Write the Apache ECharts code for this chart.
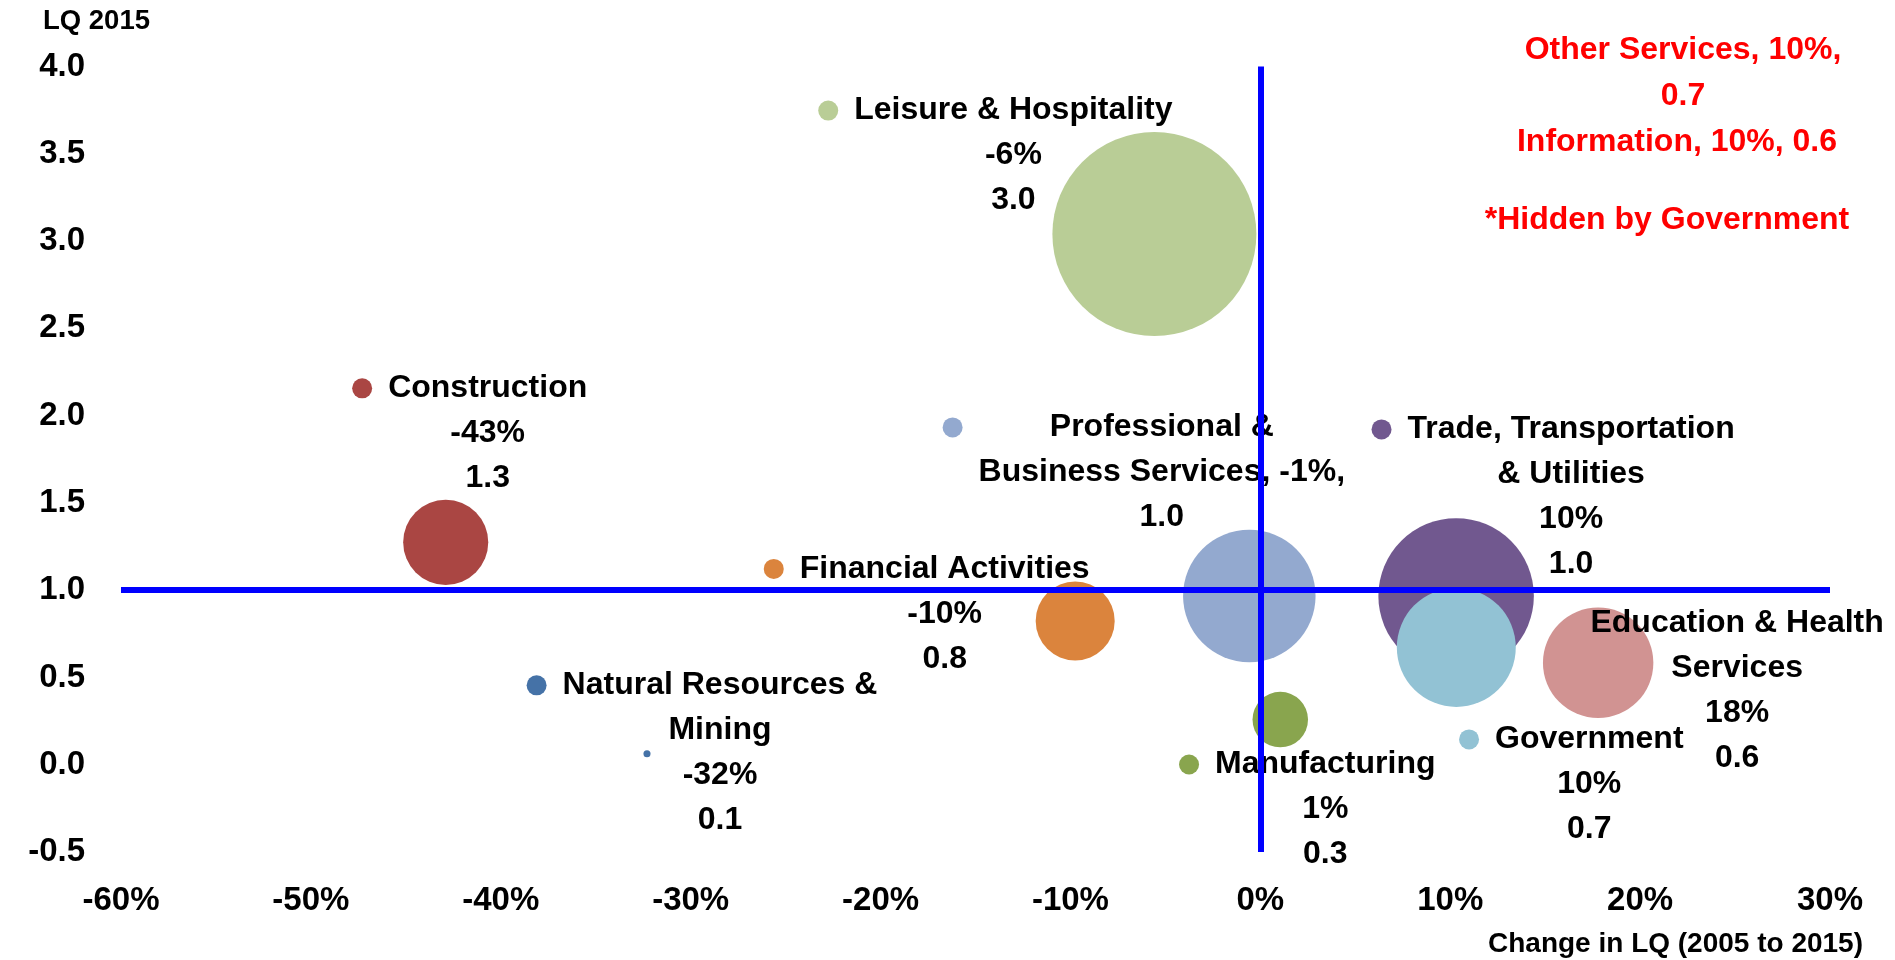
<!DOCTYPE html>
<html><head><meta charset="utf-8">
<script src="https://cdn.jsdelivr.net/npm/echarts@6/dist/echarts.min.js"></script>
<style>html,body{margin:0;padding:0;background:#fff;}#c{width:1895px;height:960px;}</style>
</head><body><div id="c"></div>
<script>
// ---- data ----
const industries = ['Natural Resources & Mining','Construction','Manufacturing','Trade, Transportation & Utilities','Financial Activities','Professional & Business Services','Education & Health Services','Leisure & Hospitality','Government'];
const labelLines = [['Natural Resources &','Mining'],['Construction'],['Manufacturing'],['Trade, Transportation','& Utilities'],['Financial Activities'],['Professional &','Business Services,'],['Education & Health','Services'],['Leisure & Hospitality'],['Government']];
const changeLQ = [-32.3, -42.9, 1.05, 10.31, -9.75, -0.58, 17.79, -5.58, 10.32];   // % change 2005-2015
const lq2015   = [0.0625, 1.274, 0.259, 0.967, 0.824, 0.967, 0.584, 3.04, 0.672];
const bubbleSize = [0.12, 17.4, 7.4, 58.1, 15.0, 42.2, 29.3, 100, 34.0];            // relative size (area)
const inlineValue = [false,false,false,false,false,true,false,false,false];
const hiddenNames = ['Other Services','Information'];
const hiddenChange = [10, 10];
const hiddenLQ = [0.7, 0.6];
const hiddenNote = '*Hidden by Government';
const xTicks = {min:-60, max:30, interval:10};
const yTicks = {min:-0.5, max:4, interval:0.5};
const xName = 'Change in LQ (2005 to 2015)';
const yName = 'LQ 2015';

// ---- styles / layout ----
const colors = ['#4572A7','#AA4643','#89A54E','#71588F','#DB843D','#93A9CF','#D19392','#B9CD96','#92C2D4'];
const keyVisible = [true,true,true,true,true,true,false,true,true];
const labelOffsets = [[73,-1],[42,-109],[45,90],[115,-99],[-130.5,-7],[-87.5,-123.5],[139,28],[-141,-78.5],[133,137]];
const FONT = "'Liberation Sans', Arial, sans-serif";
const LH = 45;
const LFS = 32;

function fmtX(v){ return Math.round(v) + '%'; }
function fmtY(v){ return v.toFixed(1); }

const data = industries.map((name, i) => {
  const lines = labelLines[i].slice();
  if (inlineValue[i]) {
    lines[lines.length-1] = lines[lines.length-1] + ' ' + fmtX(changeLQ[i]) + ',';
    lines.push(fmtY(lq2015[i]));
  } else {
    lines.push(fmtX(changeLQ[i]));
    lines.push(fmtY(lq2015[i]));
  }
  const str = lines.map((l, k) => k === 0 ? '{dot|}{gap|}{t|' + l + '}{padr|}' : '{padl|}{t|' + l + '}{padr|}').join('\n');
  return {
    name: name,
    value: [changeLQ[i], lq2015[i], bubbleSize[i]],
    itemStyle: {color: colors[i], opacity: 1},
    label: {
      show: true, position: 'inside', offset: labelOffsets[i],
      formatter: str, color: '#000', textBorderWidth: 0,
      rich: {
        dot: {width: 20, height: 20, borderRadius: 10, backgroundColor: keyVisible[i] ? colors[i] : 'transparent', align: 'left', lineHeight: LH},
        gap: {width: 16, align: 'left', lineHeight: LH},
        padl: {width: 36, align: 'left', lineHeight: LH},
        padr: {width: 36, align: 'right', lineHeight: LH},
        t: {fontSize: LFS, fontWeight: 'bold', fontFamily: FONT, color: '#000', lineHeight: LH, align: 'center', textBorderWidth: 0}
      }
    }
  };
});

const chart = echarts.init(document.getElementById('c'), null, {renderer: 'canvas'});
const tickStyle = {fontSize: 33, fontWeight: 'bold', fontFamily: FONT, color: '#000'};
chart.setOption({
  animation: false,
  backgroundColor: '#fff',
  grid: {left: 121, right: 65, top: 66.5, bottom: 108, containLabel: false},
  xAxis: {
    type: 'value', min: xTicks.min, max: xTicks.max, interval: xTicks.interval,
    axisLine: {show: false}, axisTick: {show: false}, splitLine: {show: false},
    axisLabel: Object.assign({margin: 32, formatter: v => v + '%'}, tickStyle)
  },
  yAxis: {
    type: 'value', min: yTicks.min, max: yTicks.max, interval: yTicks.interval,
    axisLine: {show: false}, axisTick: {show: false}, splitLine: {show: false},
    axisLabel: Object.assign({margin: 36, formatter: v => v.toFixed(1)}, tickStyle)
  },
  series: [
    {
      type: 'scatter', data: [], z: 1, silent: true,
      markLine: {
        silent: true, symbol: 'none', animation: false,
        label: {show: false},
        lineStyle: {color: '#0000FF', width: 6, type: 'solid'},
        emphasis: {disabled: true},
        data: [{xAxis: 0}, {yAxis: 1}]
      }
    },
    {
      type: 'scatter', z: 2,
      symbol: 'circle',
      symbolSize: v => 204 * Math.sqrt(v[2] / 100),
      emphasis: {disabled: true},
      data: data
    }
  ],
  graphic: [
    {type: 'text', x: 43, y: 21, silent: true, style: {text: yName, font: 'bold 27.5px ' + FONT, fill: '#000', align: 'left', verticalAlign: 'middle'}},
    {type: 'text', x: 1863, y: 944, silent: true, style: {text: xName, font: 'bold 28px ' + FONT, fill: '#000', align: 'right', verticalAlign: 'middle'}},
    {type: 'text', x: 1683, y: 73.3, silent: true, style: {text: hiddenNames[0] + ', ' + hiddenChange[0] + '%,\n' + hiddenLQ[0].toFixed(1), font: 'bold 32px ' + FONT, fill: '#FF0000', align: 'center', verticalAlign: 'middle', lineHeight: 46}},
    {type: 'text', x: 1677, y: 141.7, silent: true, style: {text: hiddenNames[1] + ', ' + hiddenChange[1] + '%, ' + hiddenLQ[1].toFixed(1), font: 'bold 32px ' + FONT, fill: '#FF0000', align: 'center', verticalAlign: 'middle'}},
    {type: 'text', x: 1667, y: 220, silent: true, style: {text: hiddenNote, font: 'bold 32px ' + FONT, fill: '#FF0000', align: 'center', verticalAlign: 'middle'}}
  ]
});
</script>
</body></html>
